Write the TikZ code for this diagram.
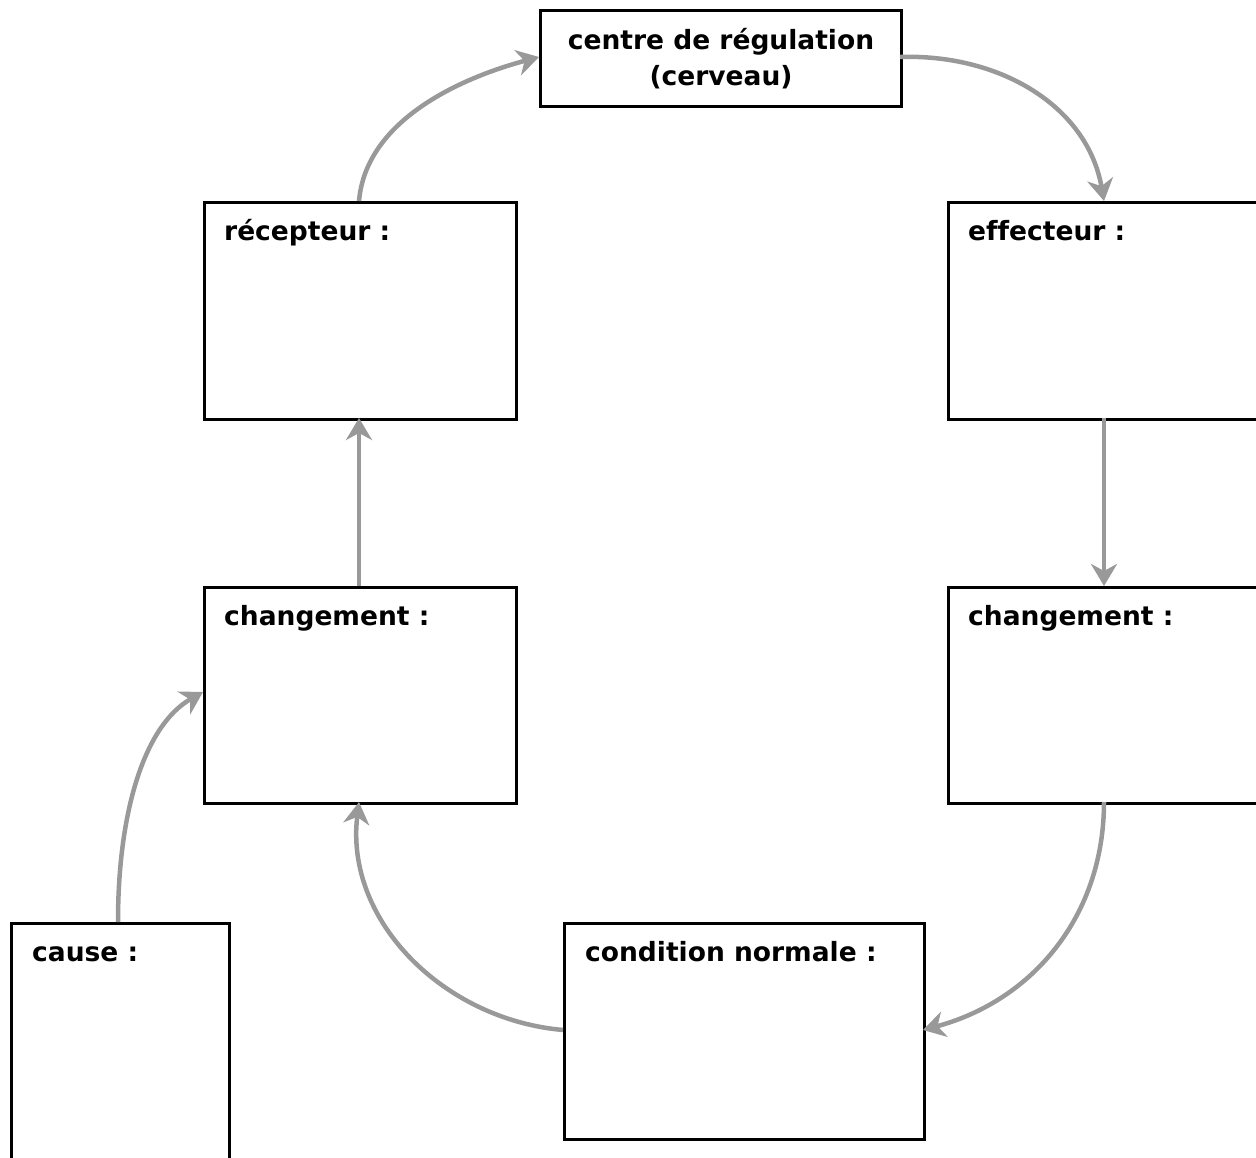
\documentclass[tikz,border=0pt]{standalone}
\usepackage{fontspec}
\setmainfont{DejaVu Sans}[Ligatures=NoCommon]
\usetikzlibrary{arrows.meta}
\definecolor{arrgrey}{HTML}{999999}
\tikzset{
  box/.style={draw=black, line width=3pt, rectangle, inner sep=0pt, anchor=north west},
  lbl/.style={anchor=base west, inner sep=0pt, font=\fontsize{26.5}{36}\selectfont\bfseries},
  conn/.style={draw=arrgrey, line width=4.5pt, -{Stealth[length=22pt,width=26pt,inset=7pt]}},
}
\begin{document}
\begin{tikzpicture}[x=1pt,y=-1pt]
\useasboundingbox (0,0) rectangle (1256,1158);
\clip (0,0) rectangle (1256,1158);
% boxes
\node[box, minimum width=361pt, minimum height=96pt] (centre) at (539,9) {};
\node[box, minimum width=312pt, minimum height=217pt] (recep) at (203,201) {};
\node[box, minimum width=330pt, minimum height=217pt] (effec) at (947,201) {};
\node[box, minimum width=312pt, minimum height=216pt] (chgL) at (203,586) {};
\node[box, minimum width=330pt, minimum height=216pt] (chgR) at (947,586) {};
\node[box, minimum width=218pt, minimum height=260pt] (cause) at (10,922) {};
\node[box, minimum width=360pt, minimum height=216pt] (cond) at (563,922) {};
% texts
\node[anchor=center, align=center, inner sep=0pt, font=\fontsize{26.5}{36}\selectfont\bfseries] (centreT) at (centre.center) {centre de régulation\\(cerveau)};
\node[lbl] (recepT) at (224,241) {récepteur :};
\node[lbl] (effecT) at (968,241) {effecteur :};
\node[lbl] (chgLT) at (224,625) {changement :};
\node[lbl] (chgRT) at (968,625) {changement :};
\node[lbl] (causeT) at (32,961) {cause :};
\node[lbl] (condT) at (585,961) {condition normale :};
% connectors
\coordinate (rTop) at (359,201);
\coordinate (cL) at (539,57);
\coordinate (cR) at (900,57);
\coordinate (eTop) at (1104,201);
\coordinate (eBot) at (1104,418);
\coordinate (crTop) at (1104,586);
\coordinate (crBot) at (1104,802);
\coordinate (condR) at (923,1030);
\coordinate (condL) at (563,1030);
\coordinate (clBot) at (359,802);
\coordinate (clTop) at (359,586);
\coordinate (rBot) at (359,418);
\coordinate (causeTop) at (118,922);
\coordinate (clLeft) at (203,692);
\coordinate (ca1) at (118,810);
\coordinate (ca2) at (145,725);
\draw[conn] (rTop) to[out=85, in=195, looseness=0.9] (cL);
\draw[conn] (cR) to[out=2, in=100] (eTop);
\draw[conn] (eBot) -- (crTop);
\draw[conn] (crBot) to[out=-90, in=15] (condR);
\draw[conn] (condL) to[out=175, in=-97] (clBot);
\draw[conn] (clTop) -- (rBot);
\draw[conn] (causeTop) .. controls (ca1) and (ca2) .. (clLeft);
\end{tikzpicture}
\end{document}
